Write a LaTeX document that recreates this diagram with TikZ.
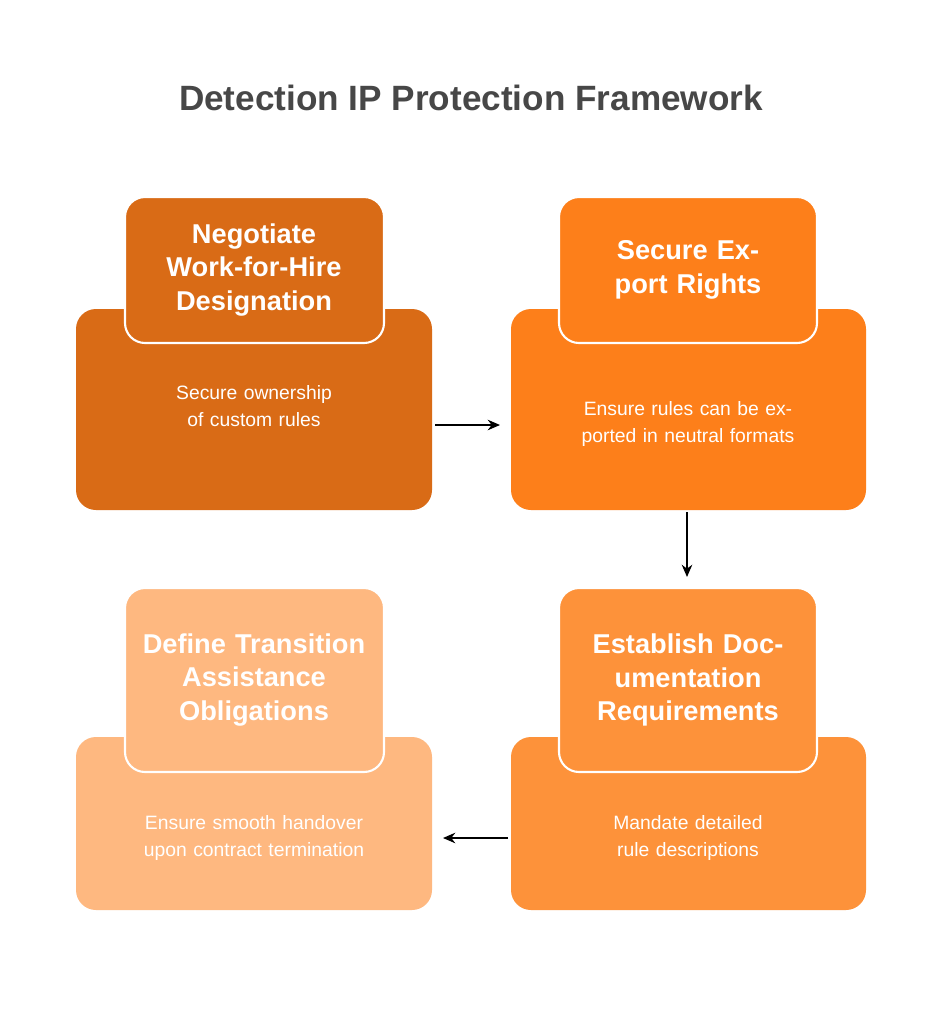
\documentclass[tikz,border=0pt]{standalone}
\usepackage{fontspec}
\setmainfont{Liberation Sans}
\usetikzlibrary{arrows.meta}
\definecolor{cOne}{HTML}{D96B16}
\definecolor{cTwo}{HTML}{FD7F1A}
\definecolor{cThree}{HTML}{FD923A}
\definecolor{cFour}{HTML}{FEB880}
\definecolor{titlegray}{HTML}{474747}
\tikzset{
  bodybox/.style={rounded corners=0.4cm, draw=none},
  headbox/.style={rounded corners=0.4cm, draw=white, line width=1.2pt},
  headtext/.style={text=white, font=\bfseries\fontsize{15.5}{19}\selectfont, align=center, text width=4.8cm},
  bodytext/.style={text=white, font=\fontsize{11}{15}\selectfont, align=center, text width=5.6cm},
  flow/.style={-{Stealth[length=7pt,width=6pt]}, line width=0.9pt, black}
}
\begin{document}
\begin{tikzpicture}[x=0.02cm,y=-0.02cm]
    \useasboundingbox[fill=white] (0,0) rectangle (943,1024);

    % Titre
    \node[font=\bfseries\fontsize{20}{24}\selectfont, text=titlegray] (title) at (471,98) {Detection IP Protection Framework};

    % Etape 1
    \fill[bodybox, fill=cOne] (76,309) rectangle (432,510);
    \draw[headbox, fill=cOne] (125,197) rectangle (384,343);
    \node[headtext] (h1) at (254,270) {Negotiate Work-for-Hire Designation};
    \node[bodytext] (b1) at (254,406) {Secure ownership of custom rules};
    \coordinate (r1) at (435,425);

    % Etape 2
    \fill[bodybox, fill=cTwo] (511,309) rectangle (866,510);
    \draw[headbox, fill=cTwo] (559,197) rectangle (817,343);
    \node[headtext] (h2) at (688,270) {Secure Export Rights};
    \node[bodytext] (b2) at (688,424) {Ensure rules can be exported in neutral formats};
    \coordinate (l2) at (500,425);
    \coordinate (d2) at (687,512);

    % Etape 3
    \fill[bodybox, fill=cThree] (511,737) rectangle (866,910);
    \draw[headbox, fill=cThree] (559,588) rectangle (817,772);
    \node[headtext] (h3) at (688,680) {Establish Documentation Requirements};
    \node[bodytext] (b3) at (688,838) {Mandate detailed rule descriptions};
    \coordinate (u3) at (687,577);
    \coordinate (l3) at (508,838);

    % Etape 4
    \fill[bodybox, fill=cFour] (76,737) rectangle (432,910);
    \draw[headbox, fill=cFour] (125,588) rectangle (384,772);
    \node[headtext] (h4) at (254,680) {Define Transition Assistance Obligations};
    \node[bodytext] (b4) at (254,838) {Ensure smooth handover upon contract termination};
    \coordinate (r4) at (443,838);

    % Fleches
    \draw[flow] (r1) -- (l2);
    \draw[flow] (d2) -- (u3);
    \draw[flow] (l3) -- (r4);
\end{tikzpicture}
\end{document}
